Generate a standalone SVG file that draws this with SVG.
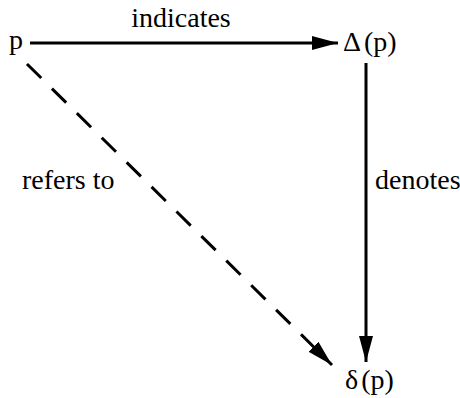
<svg xmlns="http://www.w3.org/2000/svg" width="460" height="398" viewBox="0 0 460 398">
<style>
text{font-family:"Liberation Serif","Times New Roman","DejaVu Serif",serif;font-size:28px;fill:#000}
.ln{stroke:#000;stroke-width:3;fill:none}
</style>
<defs>
<marker id="ah" markerWidth="26" markerHeight="14" refX="26" refY="7" orient="auto" markerUnits="userSpaceOnUse">
<path d="M0,0 L26,7 L0,14 Z" fill="#000"/>
</marker>
</defs>
<rect width="460" height="398" fill="#fff"/>
<g id="connectors">
<line class="ln" x1="30" y1="43" x2="338" y2="43" marker-end="url(#ah)"/>
<line class="ln" x1="366" y1="63" x2="366" y2="362" marker-end="url(#ah)"/>
<line class="ln" x1="27" y1="64" x2="332" y2="365" stroke-dasharray="20 15" marker-end="url(#ah)"/>
<text x="181" y="27" text-anchor="middle">indicates</text>
<text x="22" y="189">refers to</text>
<text x="375" y="189">denotes</text>
</g>
<g id="p"><text x="9" y="49">p</text></g>
<g id="Delta"><text x="343" y="51">Δ<tspan dx="3">(p)</tspan></text></g>
<g id="delta"><text x="345" y="389">δ<tspan dx="3">(p)</tspan></text></g>
</svg>
